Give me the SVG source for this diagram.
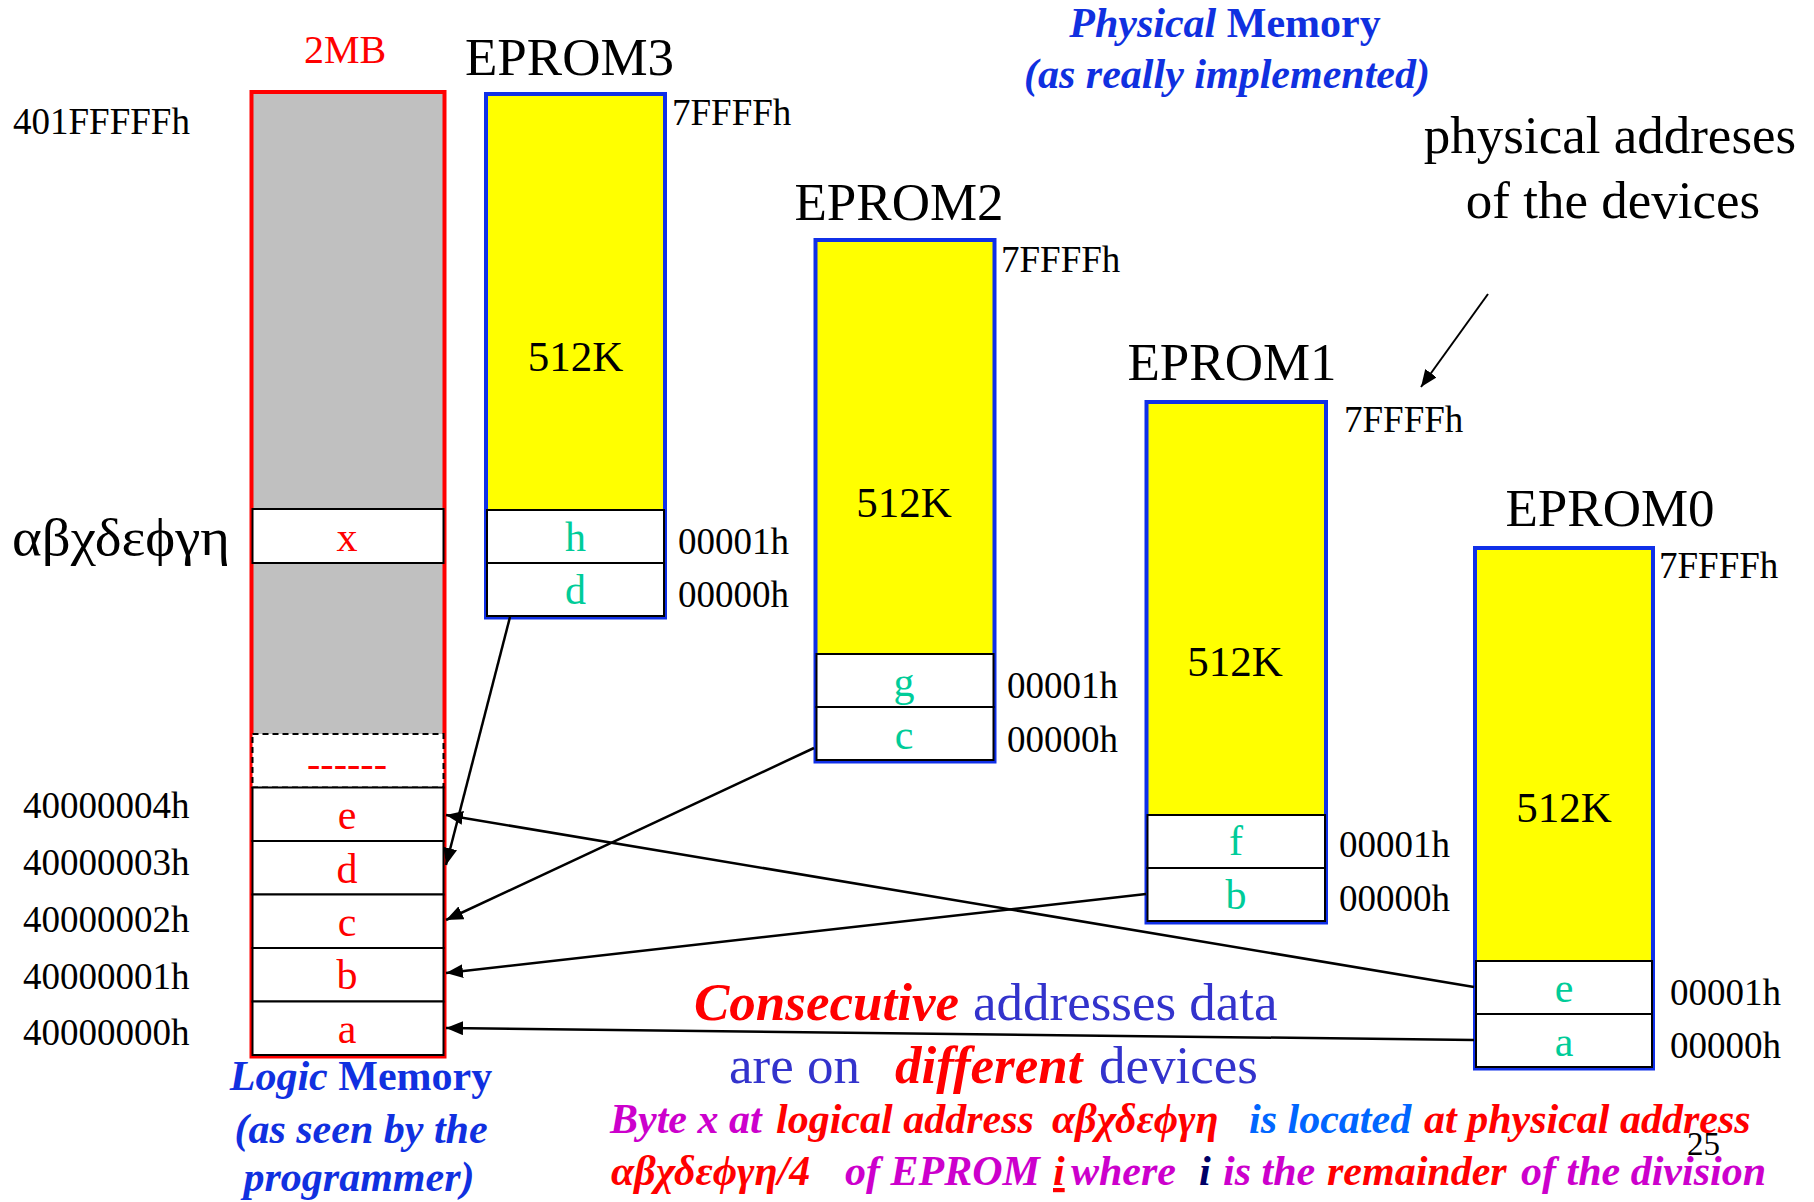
<svg xmlns="http://www.w3.org/2000/svg" width="1814" height="1202" viewBox="0 0 1814 1202">
  <style>
    text { font-family: "Liberation Serif", "Times New Roman", "DejaVu Serif", serif; }
    .addr { font-size: 37px; fill: #000; }
    .title { font-size: 53px; fill: #000; text-anchor: middle; }
    .size { font-size: 43px; fill: #000; text-anchor: middle; }
    .cellp { font-size: 42px; fill: #00CC99; text-anchor: middle; }
    .celll { font-size: 42px; fill: #FF0000; text-anchor: middle; }
    .eprom { fill: #FFFF00; stroke: #1030E8; stroke-width: 4; }
    .cell { fill: #FFFFFF; stroke: #000; stroke-width: 2; }
    .heading { font-size: 42px; fill: #1030E0; text-anchor: middle; font-weight: bold; font-style: italic; }
    .note { font-size: 42px; font-weight: bold; font-style: italic; }
    .big { font-size: 53px; }
    .conn { stroke: #000; stroke-width: 2.5; fill: none; }
  </style>
  <defs>
    <marker id="arrow" markerUnits="userSpaceOnUse" markerWidth="18" markerHeight="14" refX="17" refY="7" orient="auto">
      <path d="M0,0 L17,7 L0,14 z" fill="#000"/>
    </marker>
  </defs>

  <rect width="1814" height="1202" fill="#FFFFFF"/>

  <!-- Logic memory column -->
  <g id="logic-memory">
    <text x="345" y="63" font-size="40" fill="#FF0000" text-anchor="middle">2MB</text>
    <rect x="251.5" y="92" width="193" height="642" fill="#C0C0C0"/>
    <rect x="251.5" y="92" width="193" height="964.5" fill="none" stroke="#FF0000" stroke-width="4"/>
    <rect x="252.5" y="509" width="191" height="54" class="cell"/>
    <text x="347" y="551" class="celll">x</text>
    <rect x="252.5" y="734" width="191" height="53.5" fill="#FFFFFF" stroke="#000" stroke-width="2" stroke-dasharray="6,4"/>
    <text x="347" y="777" font-size="40" fill="#FF0000" text-anchor="middle">------</text>
    <rect x="252.5" y="787.5" width="191" height="53.5" class="cell"/>
    <text x="347" y="829" class="celll">e</text>
    <rect x="252.5" y="841" width="191" height="53.5" class="cell"/>
    <text x="347" y="883" class="celll">d</text>
    <rect x="252.5" y="894.5" width="191" height="53.5" class="cell"/>
    <text x="347" y="936" class="celll">c</text>
    <rect x="252.5" y="948" width="191" height="53.5" class="cell"/>
    <text x="347" y="989" class="celll">b</text>
    <rect x="252.5" y="1001.5" width="191" height="53.5" class="cell"/>
    <text x="347" y="1043" class="celll">a</text>

    <text x="13" y="134" class="addr">401FFFFFh</text>
    <text x="12" y="555" font-size="52" textLength="218" lengthAdjust="spacingAndGlyphs">αβχδεϕγη</text>
    <text x="23" y="818" class="addr">40000004h</text>
    <text x="23" y="875" class="addr">40000003h</text>
    <text x="23" y="932" class="addr">40000002h</text>
    <text x="23" y="989" class="addr">40000001h</text>
    <text x="23" y="1045" class="addr">40000000h</text>

    <text x="361" y="1090" class="heading"><tspan>Logic </tspan><tspan font-style="normal">Memory</tspan></text>
    <text x="361" y="1143" class="heading">(as seen by the</text>
    <text x="359" y="1191" class="heading">programmer)</text>
  </g>

  <!-- EPROM3 -->
  <g id="eprom3">
    <text x="569.5" y="75" class="title">EPROM3</text>
    <rect x="486" y="94" width="179" height="523.5" class="eprom"/>
    <text x="575.5" y="371" class="size">512K</text>
    <rect x="487" y="510" width="177" height="53" class="cell"/>
    <text x="575.5" y="551" class="cellp">h</text>
    <rect x="487" y="563" width="177" height="53" class="cell"/>
    <text x="575.5" y="604" class="cellp">d</text>
    <text x="672" y="125" class="addr">7FFFFh</text>
    <text x="678" y="554" class="addr">00001h</text>
    <text x="678" y="607" class="addr">00000h</text>
  </g>

  <!-- EPROM2 -->
  <g id="eprom2">
    <text x="899" y="220" class="title">EPROM2</text>
    <rect x="815.5" y="240" width="179" height="521.5" class="eprom"/>
    <text x="904" y="517" class="size">512K</text>
    <rect x="816.5" y="654" width="177" height="53" class="cell"/>
    <text x="904" y="696" class="cellp">g</text>
    <rect x="816.5" y="707" width="177" height="53" class="cell"/>
    <text x="904" y="749" class="cellp">c</text>
    <text x="1001" y="272" class="addr">7FFFFh</text>
    <text x="1007" y="698" class="addr">00001h</text>
    <text x="1007" y="752" class="addr">00000h</text>
  </g>

  <!-- EPROM1 -->
  <g id="eprom1">
    <text x="1232" y="380" class="title">EPROM1</text>
    <rect x="1146.5" y="402" width="179.5" height="520.5" class="eprom"/>
    <text x="1235" y="676" class="size">512K</text>
    <rect x="1147.5" y="815" width="177.5" height="53" class="cell"/>
    <text x="1236" y="855" class="cellp">f</text>
    <rect x="1147.5" y="868" width="177.5" height="53" class="cell"/>
    <text x="1236" y="909" class="cellp">b</text>
    <text x="1344" y="432" class="addr">7FFFFh</text>
    <text x="1339" y="857" class="addr">00001h</text>
    <text x="1339" y="911" class="addr">00000h</text>
  </g>

  <!-- EPROM0 -->
  <g id="eprom0">
    <text x="1610" y="526" class="title">EPROM0</text>
    <rect x="1475" y="548" width="178" height="520.5" class="eprom"/>
    <text x="1564" y="822" class="size">512K</text>
    <rect x="1476" y="961" width="176" height="53" class="cell"/>
    <text x="1564" y="1002" class="cellp">e</text>
    <rect x="1476" y="1014" width="176" height="53" class="cell"/>
    <text x="1564" y="1056" class="cellp">a</text>
    <text x="1659" y="578" class="addr">7FFFFh</text>
    <text x="1670" y="1005" class="addr">00001h</text>
    <text x="1670" y="1058" class="addr">00000h</text>
  </g>

  <!-- Headings and notes -->
  <g id="physical-heading">
    <text x="1225" y="37" class="heading"><tspan>Physical </tspan><tspan font-style="normal">Memory</tspan></text>
    <text x="1227" y="88" class="heading">(as really implemented)</text>
  </g>
  <g id="device-note">
    <text x="1610" y="153" class="title">physical addreses</text>
    <text x="1613" y="218" class="title">of the devices</text>
  </g>
  <g id="consecutive-note">
    <text y="1020" class="big"><tspan x="694" fill="#FF0000" font-weight="bold" font-style="italic">Consecutive</tspan><tspan x="973" fill="#3333CC">addresses data</tspan></text>
    <text y="1083" class="big"><tspan x="729" fill="#3333CC">are on</tspan><tspan x="895" fill="#FF0000" font-weight="bold" font-style="italic">different</tspan><tspan x="1099" fill="#3333CC">devices</tspan></text>
  </g>
  <g id="rule-note">
    <text y="1133" class="note"><tspan x="610" fill="#CC00CC">Byte x at</tspan><tspan x="776" fill="#FF0000">logical address</tspan><tspan x="1052" fill="#FF0000">αβχδεϕγη</tspan><tspan x="1249" fill="#0066FF">is located</tspan><tspan x="1424" fill="#FF0000">at physical address</tspan></text>
    <text y="1185" class="note"><tspan x="611" fill="#FF0000">αβχδεϕγη/4</tspan><tspan x="845" fill="#CC00CC">of EPROM</tspan><tspan x="1053" fill="#FF0000" text-decoration="underline">i</tspan><tspan x="1071" fill="#CC00CC">where</tspan><tspan x="1199" fill="#000066">i</tspan><tspan x="1223" fill="#CC00CC">is the</tspan><tspan x="1327" fill="#FF0000">remainder</tspan><tspan x="1521" fill="#CC00CC">of the division</tspan></text>
    <text x="1687" y="1155" font-size="33" fill="#000">25</text>
  </g>

  <!-- Connectors -->
  <g id="connectors">
    <line x1="1474" y1="987" x2="446" y2="815" class="conn" marker-end="url(#arrow)"/>
    <line x1="510" y1="617" x2="446" y2="865" class="conn" marker-end="url(#arrow)"/>
    <line x1="814" y1="748" x2="446" y2="920" class="conn" marker-end="url(#arrow)"/>
    <line x1="1146" y1="894" x2="446" y2="973" class="conn" marker-end="url(#arrow)"/>
    <line x1="1474" y1="1040" x2="446" y2="1028" class="conn" marker-end="url(#arrow)"/>
    <line x1="1488" y1="294" x2="1421" y2="387" stroke="#000" stroke-width="2" marker-end="url(#arrow)"/>
  </g>
</svg>
